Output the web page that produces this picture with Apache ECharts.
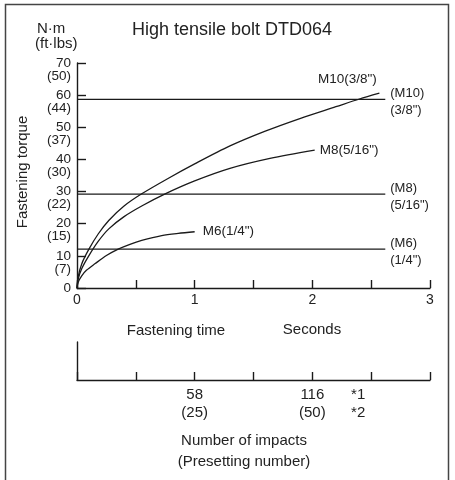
<!DOCTYPE html>
<html><head><meta charset="utf-8">
<script src="https://cdn.jsdelivr.net/npm/echarts@6/dist/echarts.min.js"></script>
<style>html,body{margin:0;padding:0;background:#fff}#c{width:455px;height:480px}</style>
</head><body><div id="c"></div>
<script>
// ---- data ----
const title = 'High tensile bolt DTD064';
const yTicksNm = [0, 10, 20, 30, 40, 50, 60, 70];
const yTicksFt = ['', '(7)', '(15)', '(22)', '(30)', '(37)', '(44)', '(50)'];
const xTicks = [0, 1, 2, 3];
const impactTicks = [1, 2];
const impactLabels = ['58', '116'];
const presetLabels = ['(25)', '(50)'];
const noteLabels = ['*1', '*2'];

const curveNames = ['M10(3/8")', 'M8(5/16")', 'M6(1/4")'];
const timeM10 = [0, 0.01, 0.04, 0.1, 0.18, 0.27, 0.4, 0.55, 0.77, 1.0, 1.3, 1.6, 1.9, 2.2, 2.4, 2.57];
const torqueM10 = [0, 3.5, 7.5, 12, 16.8, 21, 25.5, 29.3, 34, 38.6, 44.2, 48.8, 52.8, 56.4, 58.8, 60.6];
const timeM8 = [0, 0.01, 0.04, 0.1, 0.18, 0.27, 0.4, 0.55, 0.745, 1.0, 1.3, 1.64, 2.02];
const torqueM8 = [0, 2.8, 6, 10, 14.5, 18.4, 22.2, 25.5, 29.2, 33.3, 37.2, 40.3, 42.9];
const timeM6 = [0, 0.01, 0.04, 0.08, 0.155, 0.25, 0.35, 0.45, 0.55, 0.72, 0.86, 1.0];
const torqueM6 = [0, 1.8, 3.8, 5.5, 7.6, 10.1, 12.1, 13.6, 14.8, 16.3, 17.0, 17.5];

const levelNames = ['(M10)\n(3/8")', '(M8)\n(5/16")', '(M6)\n(1/4")'];
const levelValues = [58.7, 29.2, 12.1];
const levelEnd = 2.62;

// ---- chart ----
const FONT = '"Liberation Sans", Arial, sans-serif';
const TXT = '#222';
const LINE = '#1a1a1a';
const chart = echarts.init(document.getElementById('c'), null, {renderer: 'canvas'});

function curve(name, ts, vs, labelCfg) {
  const data = ts.map((t, i) => {
    if (i === ts.length - 1) return {value: [t, vs[i]], label: Object.assign({show: true, formatter: name, color: TXT, fontSize: 13.5, fontFamily: FONT}, labelCfg)};
    return [t, vs[i]];
  });
  return {type: 'line', xAxisIndex: 0, yAxisIndex: 0, data, smooth: 0.3,
    symbol: 'circle', symbolSize: 0, showSymbol: true, lineStyle: {color: LINE, width: 1.3}, itemStyle: {color: LINE}, silent: true, animation: false};
}
function level(name, v) {
  return {type: 'line', xAxisIndex: 0, yAxisIndex: 0, symbol: 'circle', symbolSize: 0,
    data: [[0, v], {value: [levelEnd, v], label: {show: true, position: 'right', distance: 5, formatter: name, color: TXT, fontSize: 13, lineHeight: 17, fontFamily: FONT, align: 'left', offset: [0, 3]}}],
    lineStyle: {color: LINE, width: 1.3}, itemStyle: {color: LINE}, silent: true, animation: false};
}

const series = [
  curve(curveNames[0], timeM10, torqueM10, {position: 'inside', offset: [-32, -14]}),
  curve(curveNames[1], timeM8, torqueM8, {position: 'right', distance: 5}),
  curve(curveNames[2], timeM6, torqueM6, {position: 'right', distance: 8}),
];
levelValues.forEach((v, i) => series.push(level(levelNames[i], v)));

const option = {
  animation: false,
  grid: [
    {left: 77, right: 25, top: 63, bottom: 192},
    {left: 77, right: 25, top: 342, bottom: 100}
  ],
  xAxis: [
    {type: 'value', gridIndex: 0, min: 0, max: 3, interval: 0.5,
      axisLine: {lineStyle: {color: LINE, width: 1.4}}, splitLine: {show: false},
      axisTick: {inside: true, length: 8, lineStyle: {color: LINE, width: 1.4}},
      axisLabel: {color: TXT, fontSize: 14, fontFamily: FONT, margin: 5,
        formatter: v => xTicks.includes(v) ? String(v) : ''}},
    {type: 'value', gridIndex: 1, min: 0, max: 3, interval: 0.5,
      axisLine: {lineStyle: {color: LINE, width: 1.4}}, splitLine: {show: false},
      axisTick: {inside: true, length: 8, lineStyle: {color: LINE, width: 1.4}},
      axisLabel: {color: TXT, fontSize: 15, lineHeight: 18, fontFamily: FONT, margin: 6,
        rich: {s: {fontSize: 15, lineHeight: 18, fontFamily: FONT, color: TXT, padding: [0, 26, 0, 0]}},
        formatter: v => {
          const k = impactTicks.indexOf(v);
          if (k >= 0) return impactLabels[k] + '\n' + presetLabels[k];
          if (v === 2.5) return noteLabels.map(n => '{s|' + n + '}').join('\n');
          return '';
        }}}
  ],
  yAxis: [
    {type: 'value', gridIndex: 0, min: 0, max: 70, interval: 10,
      axisLine: {show: true, lineStyle: {color: LINE, width: 1.4}}, splitLine: {show: false},
      axisTick: {show: true, inside: true, length: 9, lineStyle: {color: LINE, width: 1.4}},
      axisLabel: {color: TXT, fontSize: 13.5, fontFamily: FONT, margin: 6, padding: [0, 0, 2, 0],
        formatter: v => String(yTicksNm[yTicksNm.indexOf(v)])}},
    {type: 'value', gridIndex: 0, min: 0, max: 70, interval: 10, position: 'left', offset: 0,
      axisLine: {show: false}, axisTick: {show: false}, splitLine: {show: false},
      axisLabel: {color: TXT, fontSize: 13.5, fontFamily: FONT, margin: 6, verticalAlign: 'top', padding: [6, 0, 0, 0],
        formatter: v => yTicksFt[yTicksNm.indexOf(v)] || ''}},
    {type: 'value', gridIndex: 1, min: 0, max: 1,
      axisLine: {show: true, lineStyle: {color: LINE, width: 1.4}}, axisTick: {show: false},
      axisLabel: {show: false}, splitLine: {show: false}}
  ],
  series,
  graphic: [
    {type: 'rect', shape: {x: 5.5, y: 4.5, width: 443, height: 520}, style: {fill: 'none', stroke: '#444', lineWidth: 1.5}, silent: true},
    {type: 'text', x: 232, y: 30, style: {text: title, font: '18px ' + FONT, fill: TXT, align: 'center', verticalAlign: 'middle', textAlign: 'center', textVerticalAlign: 'middle'}},
    {type: 'text', x: 37, y: 29, style: {text: 'N·m', font: '15px ' + FONT, fill: TXT, align: 'left', verticalAlign: 'middle', textAlign: 'left', textVerticalAlign: 'middle'}},
    {type: 'text', x: 35, y: 44, style: {text: '(ft·lbs)', font: '15px ' + FONT, fill: TXT, align: 'left', verticalAlign: 'middle', textAlign: 'left', textVerticalAlign: 'middle'}},
    {type: 'text', x: 23, y: 172, rotation: Math.PI / 2, style: {text: 'Fastening torque', font: '15px ' + FONT, fill: TXT, align: 'center', verticalAlign: 'middle', textAlign: 'center', textVerticalAlign: 'middle'}},
    {type: 'text', x: 176, y: 331, style: {text: 'Fastening time', font: '15px ' + FONT, fill: TXT, align: 'center', verticalAlign: 'middle', textAlign: 'center', textVerticalAlign: 'middle'}},
    {type: 'text', x: 312, y: 330, style: {text: 'Seconds', font: '15px ' + FONT, fill: TXT, align: 'center', verticalAlign: 'middle', textAlign: 'center', textVerticalAlign: 'middle'}},
    {type: 'text', x: 244, y: 441, style: {text: 'Number of impacts', font: '15px ' + FONT, fill: TXT, align: 'center', verticalAlign: 'middle', textAlign: 'center', textVerticalAlign: 'middle'}},
    {type: 'text', x: 244, y: 462, style: {text: '(Presetting number)', font: '15px ' + FONT, fill: TXT, align: 'center', verticalAlign: 'middle', textAlign: 'center', textVerticalAlign: 'middle'}}
  ]
};
chart.setOption(option);
</script>
</body></html>
